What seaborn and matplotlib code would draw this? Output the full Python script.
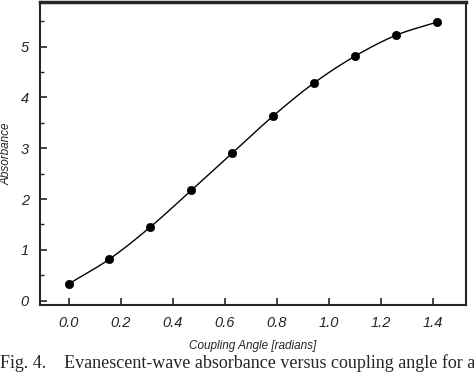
import numpy as np
import pandas as pd
import matplotlib
matplotlib.use("Agg")
import matplotlib.pyplot as plt
import seaborn as sns
from matplotlib.ticker import MultipleLocator

angle = [0.0, 0.157, 0.314, 0.471, 0.628, 0.785, 0.942, 1.100, 1.257, 1.414]
absorbance = [0.33, 0.82, 1.45, 2.17, 2.90, 3.63, 4.28, 4.81, 5.22, 5.48]
xticks = [0.0, 0.2, 0.4, 0.6, 0.8, 1.0, 1.2, 1.4]
yticks = [0, 1, 2, 3, 4, 5]

sns.set_style("ticks")
plt.rcParams['font.family'] = ['Liberation Sans', 'DejaVu Sans']

df = pd.DataFrame({"angle": angle, "absorbance": absorbance})

fig = plt.figure(figsize=(4.74, 3.72), dpi=100)
ax = fig.add_axes([0.0844, 0.180, 0.8986, 0.815])

# smooth curve through the points (Catmull-Rom rendering of the data)
x = np.array(angle); y = np.array(absorbance)
px = np.concatenate([[2*x[0]-x[1]], x, [2*x[-1]-x[-2]]])
py = np.concatenate([[2*y[0]-y[1]], y, [2*y[-1]-y[-2]]])
cx, cy = [], []
t = np.linspace(0, 1, 20)
for i in range(1, len(px)-2):
    for arr, out in ((px, cx), (py, cy)):
        p0, p1, p2, p3 = arr[i-1], arr[i], arr[i+1], arr[i+2]
        out.extend(0.5*((2*p1) + (-p0+p2)*t + (2*p0-5*p1+4*p2-p3)*t**2 + (-p0+3*p1-3*p2+p3)*t**3))
curve = pd.DataFrame({"angle": cx, "absorbance": cy})
sns.lineplot(data=curve, x="angle", y="absorbance", ax=ax, color="black", lw=1.0, sort=False)
sns.scatterplot(data=df, x="angle", y="absorbance", ax=ax, color="black", s=36, edgecolor="black", zorder=3)

ax.set_xlim(-0.11, 1.527)
ax.set_ylim(-0.085, 5.88)
ax.set_xticks(xticks)
ax.set_xticklabels([f"{v:.1f}" for v in xticks])
ax.set_yticks(yticks)
ax.yaxis.set_minor_locator(MultipleLocator(0.5))
ax.tick_params(axis="both", direction="in", length=5, width=1.2, labelsize=10.5, pad=8)
ax.tick_params(axis="y", which="minor", direction="in", length=3, width=1.0)
for lab in ax.get_xticklabels() + ax.get_yticklabels():
    lab.set_fontstyle("italic")
for s in ax.spines.values():
    s.set_linewidth(1.5)
ax.spines["top"].set_linewidth(2.5)

ax.set_xlabel("Coupling Angle [radians]", fontsize=8.5, style="italic", labelpad=7)
ax.set_ylabel("Absorbance", fontsize=8.5, style="italic", labelpad=6)

fig.text(0.0, 0.012, "Fig. 4.    Evanescent-wave absorbance versus coupling angle for a",
         family=["Liberation Serif", "DejaVu Serif"], fontsize=13, ha="left", va="baseline")

fig.savefig("out.png", dpi=100)
